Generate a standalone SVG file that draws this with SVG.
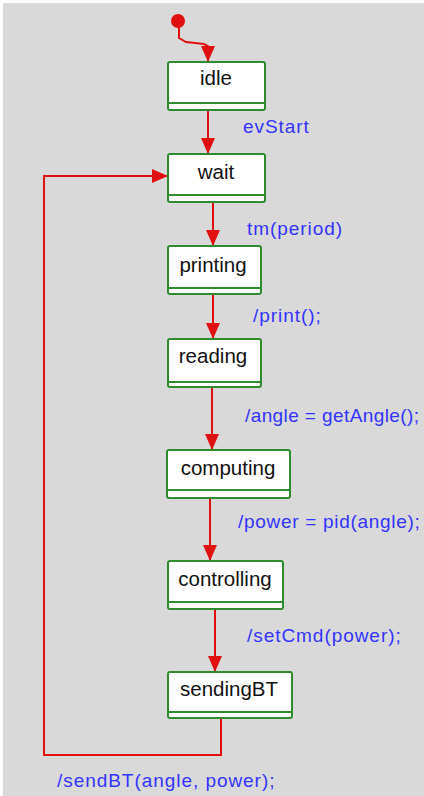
<svg xmlns="http://www.w3.org/2000/svg" width="424" height="796" viewBox="0 0 424 796">
<defs>
<style>
.st rect.b{fill:#ffffff;stroke:#2e8b2e;stroke-width:2}
.st line.d{stroke:#2e8b2e;stroke-width:2}
.st text{font-family:"Liberation Sans",Arial,sans-serif;font-size:20.5px;fill:#111111;text-anchor:middle}
.lbl{font-family:"Liberation Sans",Arial,sans-serif;font-size:19px;fill:#3333ff;letter-spacing:0.95px}
.c{fill:none;stroke:#e01010;stroke-width:2}
</style>
<marker id="ah" viewBox="0 0 16 14" refX="16" refY="7" markerWidth="16" markerHeight="14" markerUnits="userSpaceOnUse" orient="auto">
<path d="M0,0 L16,7 L0,14 Z" fill="#e01010"/>
</marker>
</defs>
<rect x="0" y="0" width="424" height="796" fill="#ffffff"/>
<rect x="3" y="3" width="421" height="793" fill="#d9d9d9"/>

<g id="connectors">
<circle cx="178" cy="21" r="7" fill="#e01010"/>
<path class="c" d="M179,27 L179,38 L186,42 L204,44 L208,46 L208,62" marker-end="url(#ah)"/>
<path class="c" d="M208,110 L208,154" marker-end="url(#ah)"/>
<path class="c" d="M213,202 L213,246" marker-end="url(#ah)"/>
<path class="c" d="M213,294 L213,339" marker-end="url(#ah)"/>
<path class="c" d="M212,387 L212,450" marker-end="url(#ah)"/>
<path class="c" d="M210,498 L210,561" marker-end="url(#ah)"/>
<path class="c" d="M215,609 L215,672" marker-end="url(#ah)"/>
<path class="c" d="M221,718 L221,755 L44,755 L44,176 L168,176" marker-end="url(#ah)"/>
<text class="lbl" x="243" y="133">evStart</text>
<text class="lbl" x="247" y="235">tm(period)</text>
<text class="lbl" x="253" y="322">/print();</text>
<text class="lbl" x="245" y="422" style="letter-spacing:0.4px">/angle = getAngle();</text>
<text class="lbl" x="238" y="528" style="letter-spacing:0.7px">/power = pid(angle);</text>
<text class="lbl" x="247" y="642">/setCmd(power);</text>
<text class="lbl" x="57" y="787">/sendBT(angle, power);</text>
</g>

<g id="idle" class="st"><rect class="b" x="168" y="62" width="97" height="48" rx="2"/><line class="d" x1="168" y1="103" x2="265" y2="103"/><text x="216" y="85">idle</text></g>
<g id="wait" class="st"><rect class="b" x="168" y="154" width="97" height="48" rx="2"/><line class="d" x1="168" y1="195" x2="265" y2="195"/><text x="216" y="179">wait</text></g>
<g id="printing" class="st"><rect class="b" x="168" y="246" width="93" height="48" rx="2"/><line class="d" x1="168" y1="288" x2="261" y2="288"/><text x="213" y="272">printing</text></g>
<g id="reading" class="st"><rect class="b" x="168" y="339" width="93" height="48" rx="2"/><line class="d" x1="168" y1="382" x2="261" y2="382"/><text x="213" y="363">reading</text></g>
<g id="computing" class="st"><rect class="b" x="167" y="450" width="123" height="48" rx="2"/><line class="d" x1="167" y1="490" x2="290" y2="490"/><text x="228" y="475">computing</text></g>
<g id="controlling" class="st"><rect class="b" x="168" y="561" width="115" height="48" rx="2"/><line class="d" x1="168" y1="602" x2="283" y2="602"/><text x="225" y="586">controlling</text></g>
<g id="sendingBT" class="st"><rect class="b" x="168" y="672" width="124" height="46" rx="2"/><line class="d" x1="168" y1="712" x2="292" y2="712"/><text x="229" y="696">sendingBT</text></g>
</svg>
